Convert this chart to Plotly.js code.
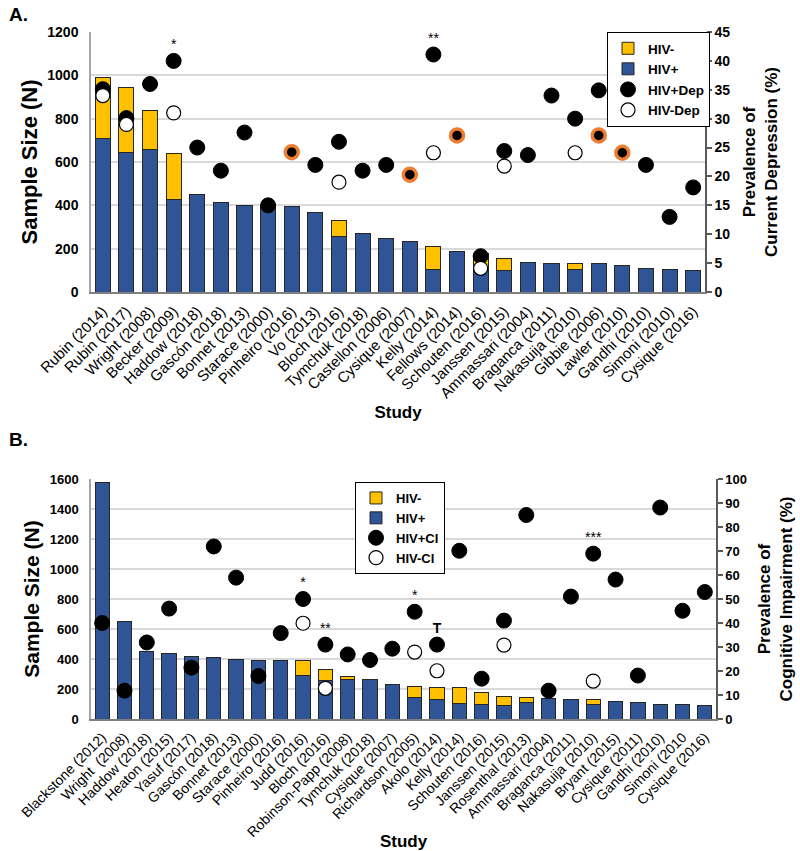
<!DOCTYPE html>
<html>
<head>
<meta charset="utf-8">
<script src="https://cdn.plot.ly/plotly-3.0.1.min.js"></script>
<style>
html,body{margin:0;padding:0;background:#fff;}
#chart{width:800px;height:851px;}
</style>
</head>
<body>
<div id="chart"></div>
<script>
// ---------- Panel A: Depression ----------
const studiesA = ["Rubin (2014)","Rubin (2017)","Wright (2008)","Becker (2009)","Haddow (2018)","Gascón (2018)","Bonnet (2013)","Starace (2000)","Pinheiro (2016)","Vo (2013)","Bloch (2016)","Tymchuk (2018)","Castellon (2006)","Cysique (2007)","Kelly (2014)","Fellows (2014)","Schouten (2016)","Janssen (2015)","Ammassari (2004)","Braganca (2011)","Nakasuija (2010)","Gibbie (2006)","Lawler (2010)","Gandhi (2010)","Simoni (2010)","Cysique (2016)"];
const hivPosA = [710,646,660,429,452,415,400,397,394,365,255,268,249,231,106,189,100,98,135,132,102,132,123,108,102,98];
const hivNegA = [278,300,180,208,0,0,0,0,0,0,74,0,0,0,105,0,78,56,0,0,28,0,0,0,0,0];
const hivPosDepA = [35.1,30.1,36,40,25,21,27.6,15,null,22,26,21,22,null,41.1,null,6.2,24.4,23.7,34,30,34.9,null,22,13,18.1];
const hivNegDepA = [34,29,null,31,null,null,null,null,null,null,19,null,null,null,24.1,null,4.1,21.8,null,null,24.1,null,null,null,null,null];
const hivPosDepAltA = [null,null,null,null,null,null,null,null,24.2,null,null,null,null,20.3,null,27.1,null,null,null,null,null,27.1,24.1,null,null,null];
const sigA = ["","","","*","","","","","","","","","","","**","","","","","","","","","","",""];

// ---------- Panel B: Cognitive impairment ----------
const studiesB = ["Blackstone (2012)","Wright  (2008)","Haddow (2018)","Heaton (2015)","Yasuf (2017)","Gascón (2018)","Bonnet (2013)","Starace (2000)","Pinheiro (2016)","Judd (2016)","Bloch (2016)","Robinson-Papp (2008)","Tymchuk (2018)","Cysique (2007)","Richardson (2005)","Akolo (2014)","Kelly (2014)","Schouten (2016)","Janssen (2015)","Rosenthal (2013)","Ammassari (2004)","Braganca (2011)","Nakasuija (2010)","Bryant (2015)","Cysique (2011)","Gandhi (2010)","Simoni (2010","Cysique (2016)"];
const hivPosB = [1576,647,449,438,420,411,400,393,391,293,256,262,264,227,142,133,104,100,93,113,136,129,100,120,113,100,98,93];
const hivNegB = [0,0,0,0,0,0,0,0,0,98,71,20,0,0,78,76,105,76,56,29,0,0,27,0,0,0,0,0];
const hivPosCIB = [40,11.8,31.9,46,21.4,71.9,58.9,17.9,35.8,50,31,26.9,24.6,29.3,44.7,31,70.1,16.8,41,85,11.8,51,68.9,58.1,18.1,88.1,45.1,52.9];
const hivNegCIB = [null,null,null,null,null,null,null,null,null,39.9,12.8,null,null,null,27.9,20.1,null,null,30.8,null,null,null,15.8,null,null,null,null,null];
const sigB = ["","","","","","","","","","*","**","","","","*","<b>T</b>","","","","","","","***","","","","",""];

const FONT = "Liberation Sans, Arial, sans-serif";
const BLUE = "#2F5597", YELLOW = "#FFC000", ORANGE = "#ED7D31";
const barLine = {color:"#262626", width:1};

function panelTraces(studies, pos, neg, posPrev, negPrev, altPrev, sig, xa, ya, ya2, lg, names){
  const t = [];
  t.push({type:"bar", x:studies, y:pos, name:"HIV+", xaxis:xa, yaxis:ya, legend:lg, legendrank:2, legendgroup:lg+"b",
          marker:{color:BLUE, line:barLine}, width:0.64, hoverinfo:"x+y"});
  t.push({type:"bar", x:studies, y:neg, name:"HIV-", xaxis:xa, yaxis:ya, legend:lg, legendrank:1, legendgroup:lg+"a",
          marker:{color:YELLOW, line:barLine}, width:0.64, hoverinfo:"x+y"});
  t.push({type:"scatter", mode:"markers", x:studies, y:posPrev, name:names[0], xaxis:xa, yaxis:ya2, legend:lg, legendrank:3, legendgroup:lg+"c",
          marker:{color:"#000", size:15, line:{color:"#000", width:1}}, cliponaxis:false});
  if (altPrev) {
    t.push({type:"scatter", mode:"markers", x:studies, y:altPrev, name:names[0]+" *", xaxis:xa, yaxis:ya2, showlegend:false,
            marker:{color:"#000", size:13, line:{color:ORANGE, width:3.5}}, cliponaxis:false});
  }
  t.push({type:"scatter", mode:"markers", x:studies, y:negPrev, name:names[1], xaxis:xa, yaxis:ya2, legend:lg, legendrank:4, legendgroup:lg+"d",
          marker:{color:"#fff", size:14, line:{color:"#000", width:1.2}}, cliponaxis:false});
  t.push({type:"scatter", mode:"markers+text", x:studies, y:posPrev, text:sig, textposition:"top center",
          textfont:{family:FONT, size:14, color:"#000"}, xaxis:xa, yaxis:ya2, showlegend:false, hoverinfo:"skip",
          marker:{size:12, color:"rgba(0,0,0,0)"}, cliponaxis:false});
  return t;
}

const data = [].concat(
  panelTraces(studiesA, hivPosA, hivNegA, hivPosDepA, hivNegDepA, hivPosDepAltA, sigA, "x", "y", "y2", "legend", ["HIV+Dep","HIV-Dep"]),
  panelTraces(studiesB, hivPosB, hivNegB, hivPosCIB, hivNegCIB, null, sigB, "x2", "y3", "y4", "legend2", ["HIV+CI","HIV-CI"])
);

const H = 851, W = 800;
const py = v => 1 - v / H, px = v => v / W;
const tickBold = s => ({family:FONT, size:s, color:"#000", weight:"bold"});

const layout = {
  width:W, height:H, autosize:false,
  margin:{l:0, r:0, t:0, b:0},
  paper_bgcolor:"#fff", plot_bgcolor:"#fff",
  barmode:"stack",
  font:{family:FONT, color:"#000"},
  hovermode:"closest",
  xaxis:{domain:[px(91), px(705)], anchor:"y", type:"category", range:[-0.5, studiesA.length - 0.5], autorange:false,
         tickangle:-45, ticklabelstandoff:3,
         tickfont:{family:FONT, size:15, color:"#000"}, showline:true, linecolor:"#7f7f7f", linewidth:1.5,
         ticks:"", automargin:false,
         title:{text:"Study", font:{family:FONT, size:17, weight:"bold", color:"#000"}, standoff:6}},
  yaxis:{domain:[py(292), py(32)], anchor:"x", range:[0,1200], dtick:200, showgrid:true, gridcolor:"#d9d9d9", gridwidth:1.5,
         showline:true, linecolor:"#a6a6a6", linewidth:1.5, zeroline:false, tickfont:tickBold(14), ticklabelstandoff:8, automargin:false,
         title:{text:"Sample Size (N)", font:{family:FONT, size:22, weight:"bold", color:"#000"}, standoff:4}},
  yaxis2:{overlaying:"y", side:"right", anchor:"x", range:[0,45], dtick:5, showgrid:false, zeroline:false,
          showline:true, linecolor:"#595959", linewidth:1.5, ticks:"outside", ticklen:5, tickcolor:"#595959", tickwidth:1.5,
          tickfont:tickBold(14), automargin:false,
          title:{text:"Prevalence of<br>Current Depression (%)", font:{family:FONT, size:17, weight:"bold", color:"#000"}, standoff:14}},
  xaxis2:{domain:[px(91), px(716)], anchor:"y3", type:"category", range:[-0.5, studiesB.length - 0.5], autorange:false,
          tickangle:-45, ticklabelstandoff:3,
          tickfont:{family:FONT, size:14, color:"#000"}, showline:true, linecolor:"#7f7f7f", linewidth:1.5,
          ticks:"", automargin:false,
          title:{text:"Study", font:{family:FONT, size:17, weight:"bold", color:"#000"}, standoff:0}},
  yaxis3:{domain:[py(719), py(479)], anchor:"x2", range:[0,1600], dtick:200, showgrid:true, gridcolor:"#d9d9d9", gridwidth:1.5,
          showline:true, linecolor:"#a6a6a6", linewidth:1.5, zeroline:false, tickfont:tickBold(13), ticklabelstandoff:8, automargin:false,
          title:{text:"Sample Size (N)", font:{family:FONT, size:21, weight:"bold", color:"#000"}, standoff:4}},
  yaxis4:{overlaying:"y3", side:"right", anchor:"x2", range:[0,100], dtick:10, showgrid:false, zeroline:false,
          showline:true, linecolor:"#595959", linewidth:1.5, ticks:"outside", ticklen:5, tickcolor:"#595959", tickwidth:1.5,
          tickfont:tickBold(13), automargin:false,
          title:{text:"Prevalence of<br>Cognitive Impairment (%)", font:{family:FONT, size:17, weight:"bold", color:"#000"}, standoff:12}},
  legend:{x:px(607), y:py(32), xanchor:"left", yanchor:"top", bgcolor:"#fff", bordercolor:"#000", borderwidth:1,
          font:{family:FONT, size:13.5, weight:"bold", color:"#000"}, traceorder:"normal", tracegroupgap:6, itemwidth:30},
  legend2:{x:px(355), y:py(482), xanchor:"left", yanchor:"top", bgcolor:"#fff", bordercolor:"#000", borderwidth:1,
          font:{family:FONT, size:13, weight:"bold", color:"#000"}, traceorder:"normal", tracegroupgap:4, itemwidth:30},
  annotations:[
    {xref:"paper", yref:"paper", x:px(7), y:py(14), xanchor:"left", yanchor:"middle", text:"A.", showarrow:false,
     font:{family:FONT, size:19, weight:"bold", color:"#000"}},
    {xref:"paper", yref:"paper", x:px(7), y:py(440), xanchor:"left", yanchor:"middle", text:"B.", showarrow:false,
     font:{family:FONT, size:19, weight:"bold", color:"#000"}}
  ]
};

Plotly.newPlot("chart", data, layout, {displayModeBar:false, responsive:false});
</script>
</body>
</html>
